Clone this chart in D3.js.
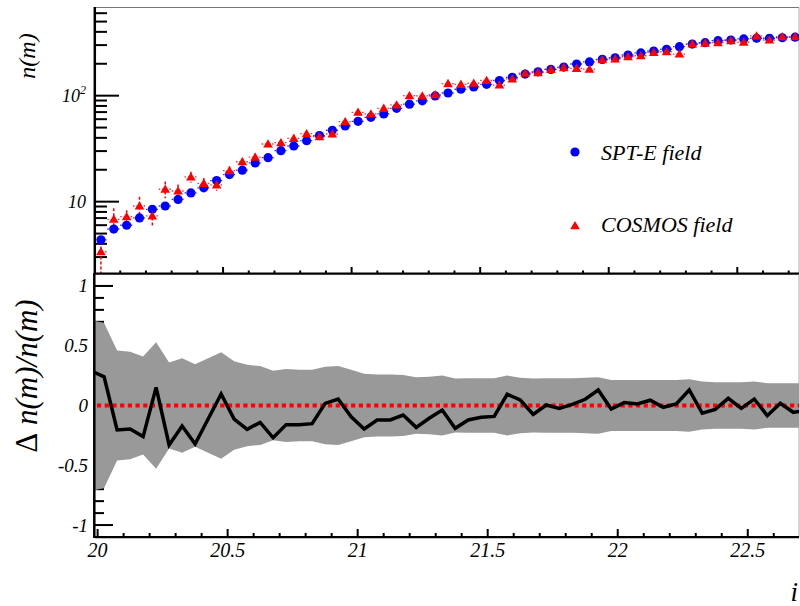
<!DOCTYPE html>
<html><head><meta charset="utf-8">
<script src="https://cdn.jsdelivr.net/npm/d3@7"></script>
<style>
body{margin:0;background:#fff}
svg{display:block}
</style>
</head><body>
<svg id="c" width="800" height="606"></svg>
<script>
// ---------- DATA ----------
const xCenters = [20.025,20.075,20.125,20.175,20.225,20.275,20.325,20.375,20.425,20.475,
  20.525,20.575,20.625,20.675,20.725,20.775,20.825,20.875,20.925,20.975,
  21.025,21.075,21.125,21.175,21.225,21.275,21.325,21.375,21.425,21.475,
  21.525,21.575,21.625,21.675,21.725,21.775,21.825,21.875,21.925,21.975,
  22.025,22.075,22.125,22.175,22.225,22.275,22.325,22.375,22.425,22.475,
  22.525,22.575,22.625,22.675,22.725];
const sptValues = [4.36,5.52,5.99,7.02,8.47,9.1,10.5,12.1,13.5,15.8,
  18.0,19.8,23.2,26.0,30.3,33.5,37.6,42.0,47.2,51.8,
  57.3,62.5,67.2,76.0,83.2,89.5,99.4,106,115,121,
  128,139,149,160,168,177,186,199,208,220,
  228,242,253,264,274,290,307,316,330,335,
  343,348,348,352,356];
const sptRelErr = [0.09,0.08,0.075,0.07,0.065,0.06,0.055,0.05,0.05,0.045,0.045,0.04,0.04,
  0.035,0.035,0.035,0.035,0.035,0.035,0.035,
  0.03,0.03,0.03,0.03,0.03,0.03,0.03,0.03,0.03,0.03,
  0.025,0.025,0.025,0.025,0.025,0.025,0.025,0.025,0.025,0.025,0.025,0.025,0.025,
  0.025,0.025,0.025,0.025,0.025,0.025,0.025,0.025,0.025,0.025,0.025,0.025];
const cosmosValues = [3.37,6.82,7.22,9.1,7.33,13.1,12.6,17.1,14.9,14.4,
  19.6,23.8,26.3,35.0,36.0,39.6,43.8,41.0,43.5,56.9,
  69.7,67.2,76.0,81.7,100,99.4,102,130,128,131,
  139,126,144,163,165,177,184,181,178,218,
  222,233,238,256,260,247,307,312,316,330,
  319,366,335,360,360];
const cosmosRelErr = [0.39,0.27,0.15,0.22,0.2,0.18,0.15,0.12,0.12,0.12,0.1,0.08,0.08,
  0.07,0.07,0.07,0.07,0.07,0.07,0.07,0.06,
  0.05,0.05,0.05,0.05,0.05,0.05,0.05,0.05,0.05,0.05,
  0.04,0.04,0.04,0.04,0.04,0.04,0.04,0.04,0.04,0.04,0.04,0.04,
  0.04,0.04,0.04,0.04,0.04,0.04,0.04,0.04,0.04,0.04,0.04,0.04];
const ratioX = [19.975].concat(xCenters);
const ratioValues = [0.29,0.24,-0.205,-0.197,-0.26,0.152,-0.33,-0.172,-0.322,-0.113,
  0.096,-0.113,-0.2,-0.141,-0.27,-0.16,-0.16,-0.152,0.018,0.054,
  -0.094,-0.197,-0.121,-0.121,-0.08,-0.183,-0.107,-0.038,-0.191,-0.121,
  -0.099,-0.091,0.094,0.046,-0.074,0.004,-0.024,0.01,0.052,0.13,
  -0.029,0.024,0.013,0.044,-0.015,0.013,0.13,-0.065,-0.032,0.06,
  -0.024,0.054,-0.085,0.018,-0.057,-0.04];
const ratioBand = [0.715,0.69,0.46,0.45,0.41,0.53,0.36,0.395,0.345,0.395,
  0.445,0.37,0.34,0.33,0.29,0.305,0.30,0.30,0.325,0.33,
  0.30,0.265,0.26,0.26,0.255,0.236,0.24,0.25,0.225,0.227,
  0.227,0.227,0.25,0.233,0.225,0.227,0.227,0.227,0.233,0.236,
  0.213,0.213,0.213,0.213,0.213,0.213,0.22,0.2,0.194,0.194,
  0.194,0.2,0.186,0.186,0.186,0.186];
const legendLabels = ["SPT-E field","COSMOS field"];
const topMajorY = [10,100];
const topMinorY = [3,4,5,6,7,8,9,20,30,40,50,60,70,80,90,200,300,400,500,600];
const xMajorTicks = [20,20.5,21,21.5,22,22.5];
const xTickLabels = ["20","20.5","21","21.5","22","22.5"];
const yBotMajor = [-1,-0.5,0,0.5,1];
const yBotLabels = ["-1","-0.5","0","0.5","1"];

// ---------- SCALES ----------
const L = 95, R = 799;
const xTop = d3.scaleLinear().domain([20.0, 22.74]).range([94.5, 799]);
const yTop = d3.scaleLog().domain([2.1, 679]).range([273.5, 7.5]);
const xBot = d3.scaleLinear().domain([19.99, 22.697]).range([95, 799]);
const yBot = d3.scaleLinear().domain([-1.1, 1.1]).range([537, 274]);

const svg = d3.select("#c");
svg.append("rect").attr("width",800).attr("height",606).attr("fill","#fff");
const defs = svg.append("defs");
defs.append("clipPath").attr("id","clipTop").append("rect").attr("x",L).attr("y",7.5).attr("width",R-L).attr("height",266);
defs.append("clipPath").attr("id","clipBot").append("rect").attr("x",L).attr("y",274).attr("width",R-L).attr("height",263);

const minorX = d3.range(201, 228).map(d => d/10);

// ---------- TOP PANEL ----------
const topG = svg.append("g");
topG.append("line").attr("x1",L).attr("x2",R).attr("y1",7.5).attr("y2",7.5).attr("stroke","#777").attr("stroke-width",1.2);
topG.append("line").attr("x1",R).attr("x2",R).attr("y1",7.5).attr("y2",273.5).attr("stroke","#aaa").attr("stroke-width",1);
topG.selectAll(".ymaj").data(topMajorY).enter().append("line")
  .attr("x1",L).attr("x2",L+24).attr("y1",d=>yTop(d)).attr("y2",d=>yTop(d))
  .attr("stroke","#000").attr("stroke-width",2);
topG.selectAll(".ymin").data(topMinorY).enter().append("line")
  .attr("x1",L).attr("x2",L+12).attr("y1",d=>yTop(d)).attr("y2",d=>yTop(d))
  .attr("stroke","#000").attr("stroke-width",2);
topG.selectAll(".xmin").data(minorX).enter().append("line")
  .attr("x1",d=>xTop(d)).attr("x2",d=>xTop(d))
  .attr("y1",273.5).attr("y2",d=> (Math.abs(d*2-Math.round(d*2))<1e-6) ? 267 : 270.5)
  .attr("stroke","#000").attr("stroke-width",2);
const yl = topG.append("g").attr("font-size",18);
yl.append("text").attr("x",86).attr("y",yTop(10)+6).attr("text-anchor","end").text("10");
const t100 = yl.append("text").attr("x",86).attr("y",yTop(100)+6).attr("text-anchor","end");
t100.append("tspan").text("10");
t100.append("tspan").attr("font-size",12).attr("dy",-8).text("2");
svg.append("text").attr("transform","translate(35,56) rotate(-90)").attr("text-anchor","middle")
  .attr("font-size",24).text("n(m)");

const dataG = topG.append("g").attr("clip-path","url(#clipTop)");
const ptsSPT = xCenters.map((x,i)=>({x, v: sptValues[i], e: sptRelErr[i]}));
const ptsCOS = xCenters.map((x,i)=>({x, v: cosmosValues[i], e: cosmosRelErr[i]}));
function errBars(g, pts, color) {
  g.selectAll(null).data(pts).enter().append("line")
    .attr("x1",d=>xTop(d.x-0.025)).attr("x2",d=>xTop(d.x+0.025))
    .attr("y1",d=>yTop(d.v)).attr("y2",d=>yTop(d.v))
    .attr("stroke",color).attr("stroke-width",1.3).attr("stroke-dasharray","1.5,2").attr("opacity",0.8);
  g.selectAll(null).data(pts).enter().append("line")
    .attr("x1",d=>xTop(d.x)).attr("x2",d=>xTop(d.x))
    .attr("y1",d=>yTop(d.v*(1+d.e))).attr("y2",d=>yTop(Math.max(d.v*(1-d.e),1)))
    .attr("stroke",color).attr("stroke-width",1.5).attr("stroke-dasharray","3,2");
}
errBars(dataG, ptsSPT, "#0000ff");
errBars(dataG, ptsCOS, "#ff0000");
dataG.selectAll(".spt").data(ptsSPT).enter().append("circle")
  .attr("cx",d=>xTop(d.x)).attr("cy",d=>yTop(d.v)).attr("r",4.6).attr("fill","#0000ff");
const tri = d3.symbol().type(d3.symbolTriangle).size(40);
dataG.selectAll(".cos").data(ptsCOS).enter().append("path")
  .attr("d",tri).attr("transform",d=>`translate(${xTop(d.x)},${yTop(d.v)+0.8})`).attr("fill","#ff0000");

const lg = svg.append("g");
lg.append("circle").attr("cx",575).attr("cy",152).attr("r",4.6).attr("fill","#0000ff");
lg.append("path").attr("d",tri).attr("transform","translate(575,226.5)").attr("fill","#ff0000");
lg.append("text").attr("x",601).attr("y",159.5).attr("font-size",22).text(legendLabels[0]);
lg.append("text").attr("x",601).attr("y",232).attr("font-size",22).text(legendLabels[1]);

topG.append("line").attr("x1",94.8).attr("x2",94.8).attr("y1",7).attr("y2",274).attr("stroke","#000").attr("stroke-width",2.5);
topG.append("line").attr("x1",L).attr("x2",R).attr("y1",273.6).attr("y2",273.6).attr("stroke","#000").attr("stroke-width",2.2);

// ---------- BOTTOM PANEL ----------
const botG = svg.append("g");
botG.append("line").attr("x1",R).attr("x2",R).attr("y1",274).attr("y2",537).attr("stroke","#aaa").attr("stroke-width",1);
const yBotMinor = d3.range(-10, 11).map(d=>d/10).filter(d=>Math.abs(d*2-Math.round(d*2))>1e-6);
botG.selectAll(".bymaj").data(yBotMajor).enter().append("line")
  .attr("x1",L).attr("x2",L+18).attr("y1",d=>yBot(d)).attr("y2",d=>yBot(d))
  .attr("stroke","#000").attr("stroke-width",2);
botG.selectAll(".bymin").data(yBotMinor).enter().append("line")
  .attr("x1",L).attr("x2",L+9).attr("y1",d=>yBot(d)).attr("y2",d=>yBot(d))
  .attr("stroke","#000").attr("stroke-width",2);
const minorXB = d3.range(200, 227).map(d=>d/10);
botG.selectAll(".bxmin").data(minorXB).enter().append("line")
  .attr("x1",d=>xBot(d)).attr("x2",d=>xBot(d))
  .attr("y1",537).attr("y2",d=> (Math.abs(d*2-Math.round(d*2))<1e-6) ? 529 : 533)
  .attr("stroke","#000").attr("stroke-width",2);

const bandData = ratioX.map((x,i)=>({x, h: ratioBand[i], v: ratioValues[i]}));
const bg = botG.append("g").attr("clip-path","url(#clipBot)");
bg.append("path").datum(bandData)
  .attr("d", d3.area().x(d=>xBot(d.x)).y0(d=>yBot(-d.h)).y1(d=>yBot(d.h)))
  .attr("fill","#999999");
bg.append("line").attr("x1",L+2).attr("x2",R).attr("y1",yBot(0)).attr("y2",yBot(0))
  .attr("stroke","#ff0000").attr("stroke-width",4).attr("stroke-dasharray","4.2,3.5");
bg.append("path").datum(bandData)
  .attr("d", d3.line().x(d=>xBot(d.x)).y(d=>yBot(d.v)))
  .attr("fill","none").attr("stroke","#000").attr("stroke-width",3.5).attr("stroke-linejoin","miter");

botG.append("line").attr("x1",94.3).attr("x2",94.3).attr("y1",273).attr("y2",538).attr("stroke","#000").attr("stroke-width",2.5);
botG.append("line").attr("x1",L).attr("x2",R).attr("y1",537.2).attr("y2",537.2).attr("stroke","#000").attr("stroke-width",2.2);

const bl = botG.append("g").attr("font-size",19);
bl.selectAll(".yl").data(yBotMajor).enter().append("text")
  .attr("x",88).attr("y",d=>yBot(d)+6.5).attr("text-anchor","end").text((d,i)=>yBotLabels[i]);
bl.selectAll(".xl").data(xMajorTicks).enter().append("text")
  .attr("x",d=>xBot(d)).attr("y",557).attr("text-anchor","middle").attr("font-size",20).text((d,i)=>xTickLabels[i]);

const yt = svg.append("text").attr("transform","translate(37,376) rotate(-90)").attr("text-anchor","middle").attr("font-size",31);
yt.append("tspan").attr("font-style","normal").attr("class","upright").text("Δ");
yt.append("tspan").text(" n(m)/n(m)");
svg.append("text").attr("x",798).attr("y",601).attr("text-anchor","end").attr("font-size",27).text("i");

// fonts applied on every text element
svg.selectAll("text").attr("font-family","Liberation Serif").attr("font-style","italic").attr("fill","#000");
svg.selectAll("tspan").attr("font-family","Liberation Serif");
svg.selectAll("tspan.upright").attr("font-style","normal");
</script>
</body></html>
